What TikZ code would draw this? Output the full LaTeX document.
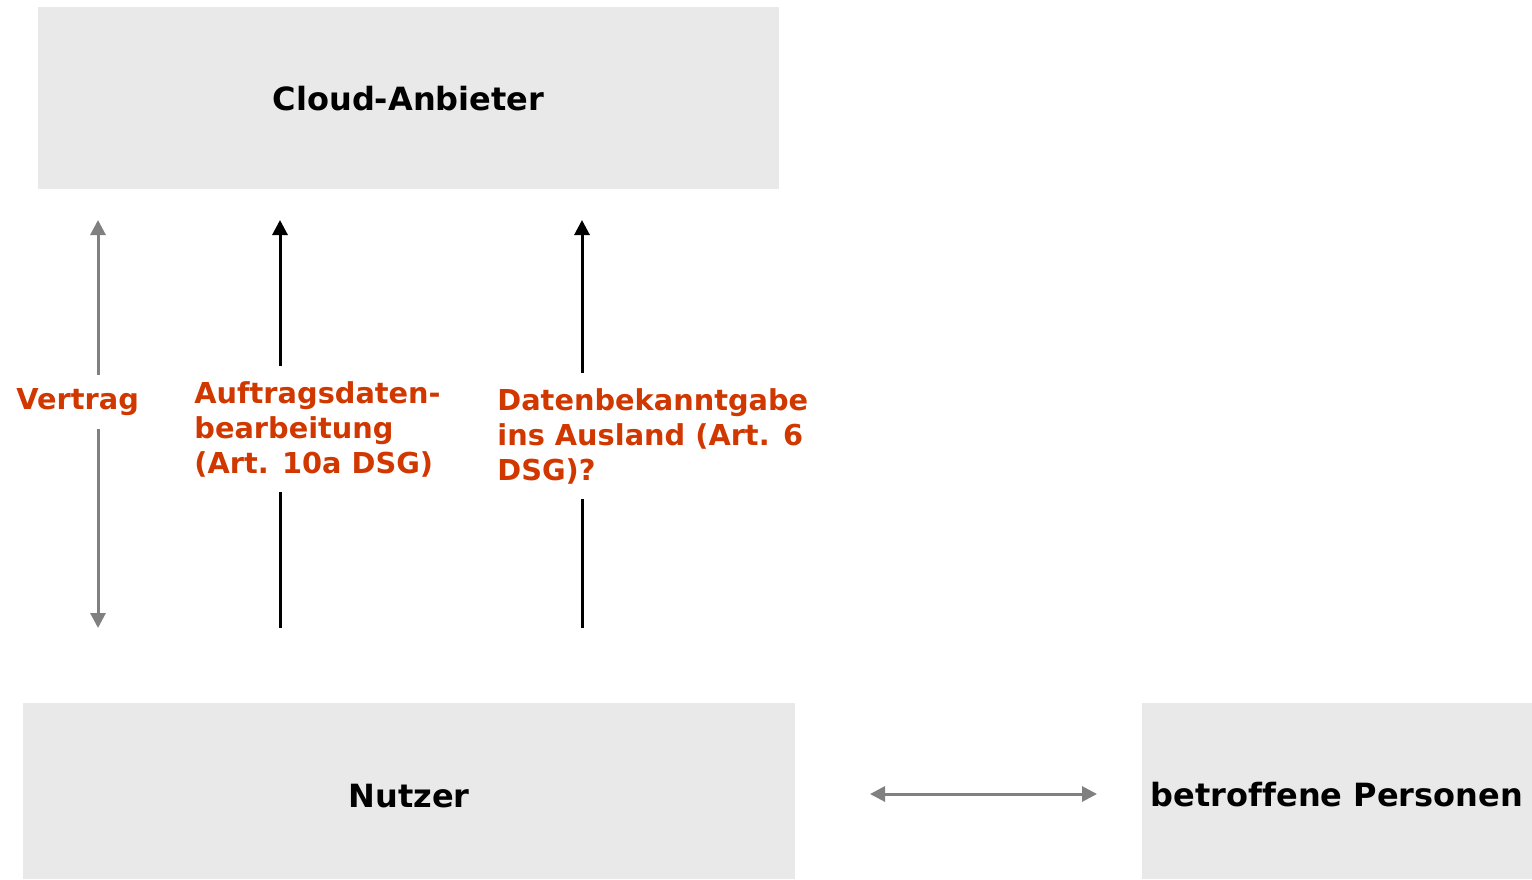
\documentclass[tikz,border=0pt]{standalone}
\usepackage{fontspec}
\setmainfont[Ligatures=NoCommon]{DejaVu Sans}
\usetikzlibrary{arrows.meta}
\definecolor{boxgray}{RGB}{233,233,233}
\definecolor{labred}{RGB}{208,56,0}
\definecolor{arrgray}{RGB}{128,128,128}
\begin{document}
\begin{tikzpicture}[x=0.5pt,y=-0.5pt,
  party/.style={fill=boxgray,draw=none,inner sep=0pt,text height=12pt,text depth=4pt,font=\bfseries\fontsize{16}{19}\selectfont},
  lab/.style={text=labred,fill=white,inner xsep=0pt,inner ysep=7.5pt,align=left,font=\bfseries\fontsize{14.4}{17.5}\selectfont},
  grayarrow/.style={draw=arrgray,line width=1.5pt,{Triangle[length=7.5pt,width=7.5pt]}-{Triangle[length=7.5pt,width=7.5pt]}},
  blackarrow/.style={draw=black,line width=1.5pt,-{Triangle[length=7.5pt,width=7.5pt]}}]
\useasboundingbox (0,0) rectangle (1532,879);
\node[party,minimum width=370.5pt,minimum height=91pt] (cloud) at (408.5,98) {\raisebox{-2pt}{Cloud-Anbieter}};
\node[party,minimum width=386pt,minimum height=88pt] (nutzer) at (409,791) {\raisebox{-4pt}{Nutzer}};
\node[party,minimum width=195pt,minimum height=88pt] (betr) at (1337,791) {\raisebox{-3.5pt}{betroffene Personen}};
\coordinate (v1) at (98,220);
\coordinate (v2) at (98,628);
\coordinate (a1) at (280,628);
\coordinate (a2) at (280,220);
\coordinate (d1) at (582,628);
\coordinate (d2) at (582,220);
\coordinate (h1) at (870,794);
\coordinate (h2) at (1097,794);
\draw[grayarrow] (v1) -- (v2);
\draw[blackarrow] (a1) -- (a2);
\draw[blackarrow] (d1) -- (d2);
\draw[grayarrow] (h1) -- (h2);
\node[lab,anchor=west,inner ysep=6.5pt] (vertrag) at (16,402) {Vertrag};
\node[lab,anchor=west] (auftrag) at (194,429) {Auftragsdaten-\\bearbeitung\\(Art. 10a DSG)};
\node[lab,anchor=west] (daten) at (497,436) {Datenbekanntgabe\\ins Ausland (Art. 6\\DSG)?};
\end{tikzpicture}
\end{document}
